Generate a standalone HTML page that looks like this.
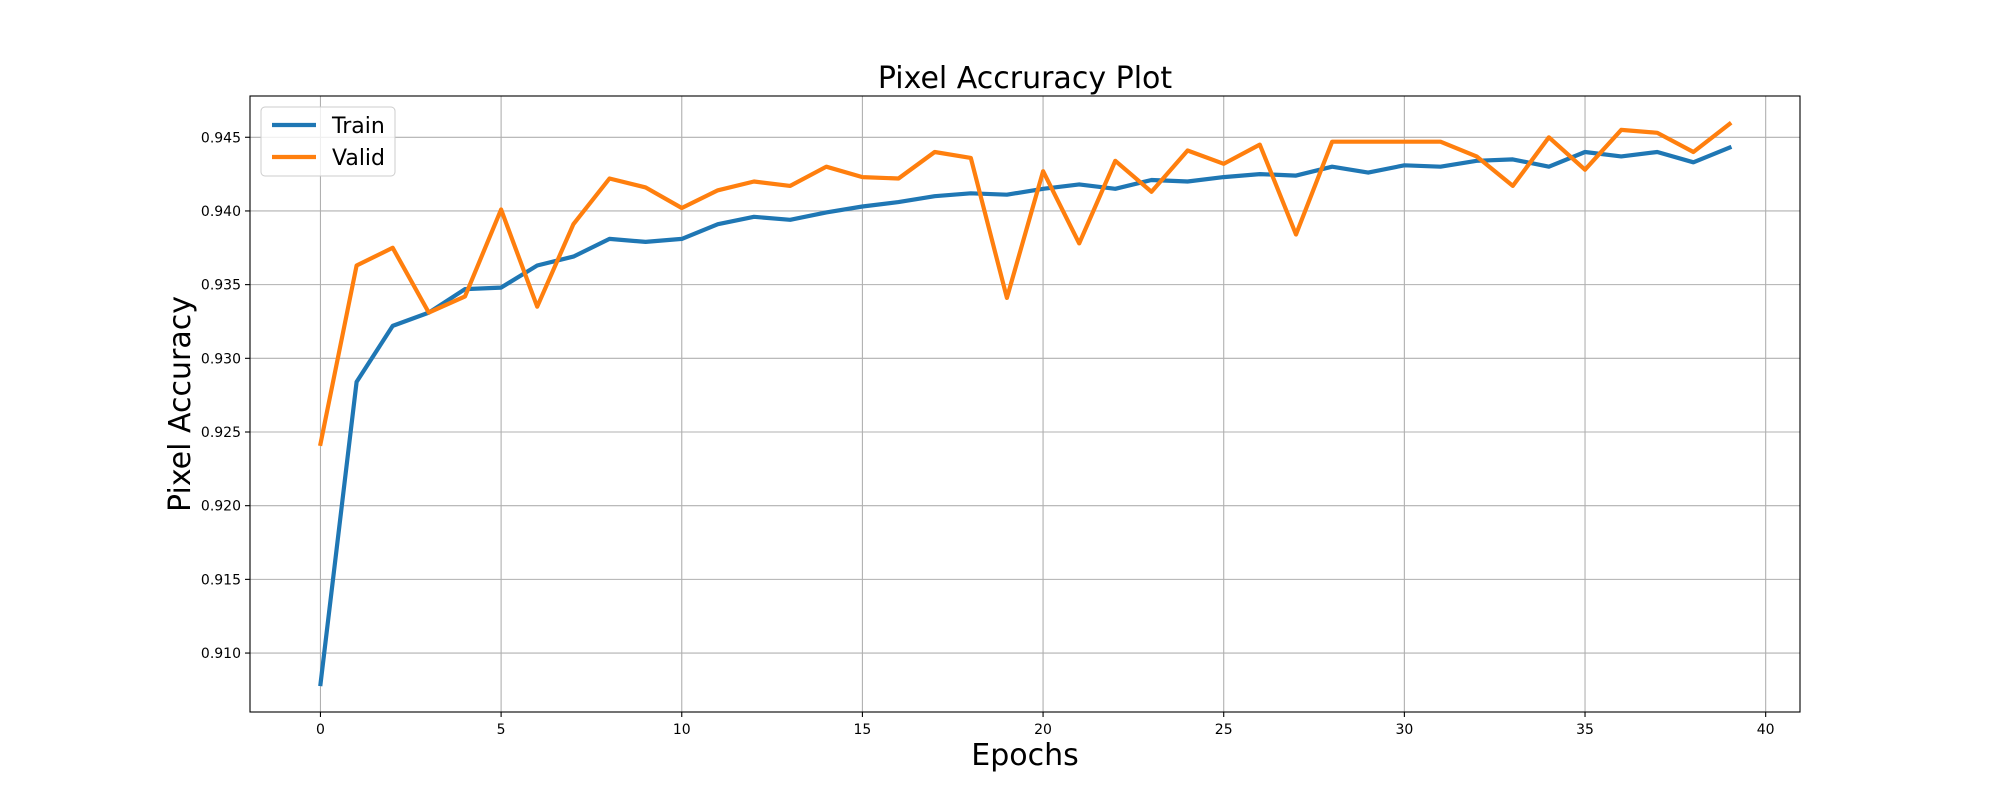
<!DOCTYPE html>
<html><head><meta charset="utf-8"><style>
body{margin:0;background:#fff;}
svg{display:block;font-family:"DejaVu Sans","Liberation Sans",sans-serif;}
</style></head><body>
<svg id="chart" width="2000" height="800" viewBox="0 0 2000 800" xmlns="http://www.w3.org/2000/svg">
<rect width="2000" height="800" fill="#fff"/>
<g id="grid"></g>
<g id="lines"></g>
<rect x="250" y="96" width="1550" height="616" fill="none" stroke="#000" stroke-width="1.1"/>
<g id="ticks"></g>
<text x="1025" y="88" font-size="30" text-anchor="middle">Pixel Accruracy Plot</text>
<text x="1025" y="765" font-size="30" text-anchor="middle">Epochs</text>
<text transform="translate(190,404) rotate(-90)" font-size="30" text-anchor="middle">Pixel Accuracy</text>
<g>
<rect x="261" y="107" width="134" height="69" rx="4" fill="#fff" fill-opacity="0.8" stroke="#ccc"/>
<line x1="272" y1="125" x2="316" y2="125" stroke="#1f77b4" stroke-width="4.2"/>
<text x="332" y="133" font-size="22">Train</text>
<line x1="272" y1="157" x2="316" y2="157" stroke="#ff7f0e" stroke-width="4.2"/>
<text x="332" y="165" font-size="22">Valid</text>
</g>
</svg>
<script>
const epochs = Array.from({length:40},(_,i)=>i);
const trainAcc = [0.9079,0.9284,0.9322,0.9331,0.9347,0.9348,0.9363,0.9369,0.9381,0.9379,0.9381,0.9391,0.9396,0.9394,0.9399,0.9403,0.9406,0.9410,0.9412,0.9411,0.9415,0.9418,0.9415,0.9421,0.9420,0.9423,0.9425,0.9424,0.9430,0.9426,0.9431,0.9430,0.9434,0.9435,0.9430,0.9440,0.9437,0.9440,0.9433,0.9443];
const validAcc = [0.9242,0.9363,0.9375,0.9331,0.9342,0.9401,0.9335,0.9391,0.9422,0.9416,0.9402,0.9414,0.9420,0.9417,0.9430,0.9423,0.9422,0.9440,0.9436,0.9341,0.9427,0.9378,0.9434,0.9413,0.9441,0.9432,0.9445,0.9384,0.9447,0.9447,0.9447,0.9447,0.9437,0.9417,0.9450,0.9428,0.9455,0.9453,0.9440,0.9459];
const xTicks = [0,5,10,15,20,25,30,35,40];
const yTicks = [0.910,0.915,0.920,0.925,0.930,0.935,0.940,0.945];

const L=250,R=1800,T=96,B=712;
const all=trainAcc.concat(validAcc);
const n=epochs.length-1;
const xmin=-0.05*n, xmax=n*1.05;
const dmin=Math.min(...all), dmax=Math.max(...all), m=(dmax-dmin)*0.05;
const ymin=dmin-m, ymax=dmax+m;
const sx=v=>L+(v-xmin)/(xmax-xmin)*(R-L);
const sy=v=>B-(v-ymin)/(ymax-ymin)*(B-T);
const NS="http://www.w3.org/2000/svg";
function mk(tag,attrs,parent){const e=document.createElementNS(NS,tag);for(const k in attrs)e.setAttribute(k,attrs[k]);parent.appendChild(e);return e;}
const grid=document.getElementById('grid'), ticks=document.getElementById('ticks'), lines=document.getElementById('lines');
xTicks.forEach(t=>{
  const x=sx(t);
  const g=mk('line',{x1:x,x2:x,y1:T,y2:B,stroke:'#b0b0b0','stroke-width':1.1},grid);
  
  
  mk('line',{x1:x,x2:x,y1:B,y2:B+5,stroke:'#000','stroke-width':1.1},ticks);
  const tx=mk('text',{x:x,y:B+22,'font-size':14,'text-anchor':'middle'},ticks);
  tx.textContent=t;
  
  
});
yTicks.forEach(t=>{
  const y=sy(t);
  const g=mk('line',{x1:L,x2:R,y1:y,y2:y,stroke:'#b0b0b0','stroke-width':1.1},grid);
  
  
  mk('line',{x1:L-5,x2:L,y1:y,y2:y,stroke:'#000','stroke-width':1.1},ticks);
  const tx=mk('text',{x:L-9,y:y+5,'font-size':14,'text-anchor':'end'},ticks);
  tx.textContent=t.toFixed(3);
  
  
});
function series(vals,color,name){
  const pts=vals.map((v,i)=>sx(epochs[i]).toFixed(1)+','+sy(v).toFixed(1)).join(' ');
  const p=mk('polyline',{points:pts,fill:'none',stroke:color,'stroke-width':4.2,'stroke-linejoin':'round','stroke-linecap':'square'},lines);
  
  
}
series(trainAcc,'#1f77b4','train-line');
series(validAcc,'#ff7f0e','valid-line');
</script>
</body></html>
